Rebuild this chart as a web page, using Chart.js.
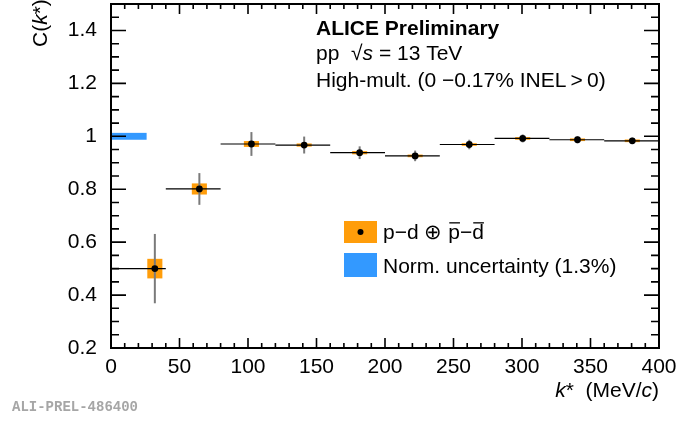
<!DOCTYPE html>
<html lang="en">
<head>
  <meta charset="UTF-8">
  <title>ALICE p-d correlation</title>
  <script src="https://cdn.jsdelivr.net/npm/chart.js"></script>
  <style>
    html, body { margin: 0; padding: 0; background: #fff; }
    #wrap { width: 678px; height: 421px; }
  </style>
</head>
<body>
  <div id="wrap"><canvas id="cf" width="678" height="421"></canvas></div>

  <script>
    // k* bin centres (mean k*), bin edges, C(k*) values and errors
    const kStar   = [32, 64.5, 102.5, 141, 181.5, 222, 261.5, 300.5, 340.5, 380.5];
    const binLow  = [0, 40, 80, 120, 160, 200, 240, 280, 320, 360];
    const binHigh = [40, 80, 120, 160, 200, 240, 280, 320, 360, 400];
    const cVal    = [0.500, 0.801, 0.971, 0.967, 0.938, 0.926, 0.969, 0.992, 0.987, 0.983];
    const statErr = [0.131, 0.060, 0.045, 0.032, 0.024, 0.020, 0.018, 0.015, 0.013, 0.012];
    const sysErr  = [0.037, 0.021, 0.011, 0.006, 0.006, 0.005, 0.005, 0.005, 0.005, 0.005];

    // normalisation uncertainty band
    const normRange = [0, 26];
    const normErr = 0.013;

    const xTicks = [0, 50, 100, 150, 200, 250, 300, 350, 400];
    const xTickLabels = ['0', '50', '100', '150', '200', '250', '300', '350', '400'];
    const yTicks = [0.2, 0.4, 0.6, 0.8, 1.0, 1.2, 1.4];
    const yTickLabels = ['0.2', '0.4', '0.6', '0.8', '1', '1.2', '1.4'];

    const FONT = '"Liberation Sans", Arial, sans-serif';
    const ORANGE = '#ff9d0a';
    const BLUE = '#3399ff';
    const SYS_HALF = 5.5;  // half width of systematic box in MeV/c
    const TXT = 21;

    // draw a run of text pieces [text, style, overline] starting at x
    function drawRun(ctx, pieces, x, y, size) {
      pieces.forEach(p => {
        ctx.font = (p[1] || '') + ' ' + size + 'px ' + FONT;
        ctx.fillText(p[0], x, y);
        const w = ctx.measureText(p[0]).width;
        if (p[2]) {
          ctx.fillRect(x + 1, y - size * 0.8, w - 1, 1.3);
        }
        x += w;
      });
      return x;
    }
    function runWidth(ctx, pieces, size) {
      let w = 0;
      pieces.forEach(p => {
        ctx.font = (p[1] || '') + ' ' + size + 'px ' + FONT;
        w += ctx.measureText(p[0]).width;
      });
      return w;
    }

    const errorPlugin = {
      id: 'errors',
      beforeDatasetsDraw(chart) {
        const { ctx, scales: { x, y } } = chart;
        ctx.save();
        // norm. uncertainty
        ctx.fillStyle = BLUE;
        ctx.fillRect(x.getPixelForValue(normRange[0]), y.getPixelForValue(1 + normErr),
          x.getPixelForValue(normRange[1]) - x.getPixelForValue(normRange[0]),
          y.getPixelForValue(1 - normErr) - y.getPixelForValue(1 + normErr));
        // systematic boxes
        ctx.fillStyle = ORANGE;
        kStar.forEach((k, i) => {
          const x0 = x.getPixelForValue(k - SYS_HALF), x1 = x.getPixelForValue(k + SYS_HALF);
          const y0 = y.getPixelForValue(cVal[i] + sysErr[i]), y1 = y.getPixelForValue(cVal[i] - sysErr[i]);
          ctx.fillRect(x0, y0, x1 - x0, Math.max(y1 - y0, 2.5));
        });
        // statistical errors
        kStar.forEach((k, i) => {
          const px = x.getPixelForValue(k), py = y.getPixelForValue(cVal[i]);
          ctx.strokeStyle = '#7a7a7a';
          ctx.lineWidth = 2;
          ctx.beginPath();
          ctx.moveTo(px, y.getPixelForValue(cVal[i] + statErr[i]));
          ctx.lineTo(px, y.getPixelForValue(cVal[i] - statErr[i]));
          ctx.stroke();
          ctx.strokeStyle = '#000';
          ctx.lineWidth = 1.2;
          ctx.beginPath();
          ctx.moveTo(x.getPixelForValue(binLow[i]), py);
          ctx.lineTo(x.getPixelForValue(binHigh[i]), py);
          ctx.stroke();
        });
        ctx.restore();
      },
      afterDatasetsDraw(chart) {
        const { ctx, chartArea: a, scales: { x, y } } = chart;
        ctx.save();
        // frame
        ctx.strokeStyle = '#000';
        ctx.lineWidth = 2;
        ctx.strokeRect(a.left, a.top, a.right - a.left, a.bottom - a.top);
        // inward ticks on all four sides
        ctx.lineWidth = 1.6;
        ctx.beginPath();
        for (let v = 0; v <= 400; v += 10) {
          const px = x.getPixelForValue(v);
          const len = v % 50 === 0 ? 10 : 5;
          ctx.moveTo(px, a.bottom); ctx.lineTo(px, a.bottom - len);
          ctx.moveTo(px, a.top); ctx.lineTo(px, a.top + len);
        }
        for (let j = 0; j <= 26; j++) {
          const py = y.getPixelForValue(0.2 + j * 0.05);
          const len = j % 4 === 0 ? 15 : 8;
          ctx.moveTo(a.left, py); ctx.lineTo(a.left + len, py);
          ctx.moveTo(a.right, py); ctx.lineTo(a.right - len, py);
        }
        ctx.stroke();

        ctx.fillStyle = '#000';
        ctx.textBaseline = 'alphabetic';
        ctx.textAlign = 'left';
        // header text
        drawRun(ctx, [['ALICE Preliminary', 'bold']], 316, 35, TXT);
        drawRun(ctx, [['pp  \u221A'], ['s', 'italic'], [' = 13 TeV']], 316, 60, TXT);
        drawRun(ctx, [['High-mult. (0 \u22120.17% INEL\u2009>\u20090)']], 316, 87, TXT);

        // legend
        ctx.fillStyle = ORANGE;
        ctx.fillRect(344, 221, 33, 22);
        ctx.fillStyle = '#000';
        ctx.beginPath(); ctx.arc(360.5, 232, 3, 0, Math.PI * 2); ctx.fill();
        ctx.fillStyle = BLUE;
        ctx.fillRect(344, 253, 33, 24);
        ctx.fillStyle = '#000';
        drawRun(ctx, [['p\u2212d \u2295 '], ['p', '', true], ['\u2212'], ['d', '', true]], 383, 239, TXT);
        drawRun(ctx, [['Norm. uncertainty (1.3%)']], 383, 273, TXT);

        // x axis title, right aligned
        const xt = [['k', 'italic'], ['*  (MeV/'], ['c', 'italic'], [')']];
        drawRun(ctx, xt, a.right - runWidth(ctx, xt, TXT), 397, TXT);

        // y axis title, rotated
        ctx.save();
        ctx.translate(47, 47);
        ctx.rotate(-Math.PI / 2);
        drawRun(ctx, [['C('], ['k', 'italic'], ['*)']], 0, 0, TXT);
        ctx.restore();

        // preliminary id
        ctx.fillStyle = '#a6a6a6';
        ctx.font = 'bold 14px "Liberation Mono", "Courier New", monospace';
        ctx.fillText('ALI-PREL-486400', 12, 411);
        ctx.restore();
      }
    };

    new Chart(document.getElementById('cf'), {
      type: 'scatter',
      data: {
        datasets: [{
          label: 'p-d',
          data: kStar.map((k, i) => ({ x: k, y: cVal[i] })),
          pointRadius: 3.4,
          pointBackgroundColor: '#000',
          pointBorderWidth: 0
        }]
      },
      options: {
        responsive: false,
        animation: false,
        layout: { padding: { top: 1, right: 19, left: 0, bottom: 0 } },
        plugins: { legend: { display: false }, tooltip: { enabled: false } },
        scales: {
          x: {
            type: 'linear', min: 0, max: 400,
            afterBuildTicks: s => { s.ticks = xTicks.map(v => ({ value: v })); },
            afterFit: s => { s.height = 73; s.paddingLeft = 0; s.paddingRight = 0; },
            ticks: {
              callback: (v, i) => xTickLabels[i],
              color: '#000', font: { family: FONT, size: TXT }, padding: 7, maxRotation: 0
            },
            grid: { display: false, drawTicks: false },
            border: { display: false }
          },
          y: {
            type: 'linear', min: 0.2, max: 1.5,
            afterBuildTicks: s => { s.ticks = yTicks.map(v => ({ value: v })); },
            afterFit: s => { s.width = 111; s.paddingTop = 0; s.paddingBottom = 0; },
            ticks: {
              callback: (v, i) => yTickLabels[i],
              color: '#000', font: { family: FONT, size: TXT }, padding: 14
            },
            grid: { display: false, drawTicks: false },
            border: { display: false }
          }
        }
      },
      plugins: [errorPlugin]
    });
  </script>
</body>
</html>
